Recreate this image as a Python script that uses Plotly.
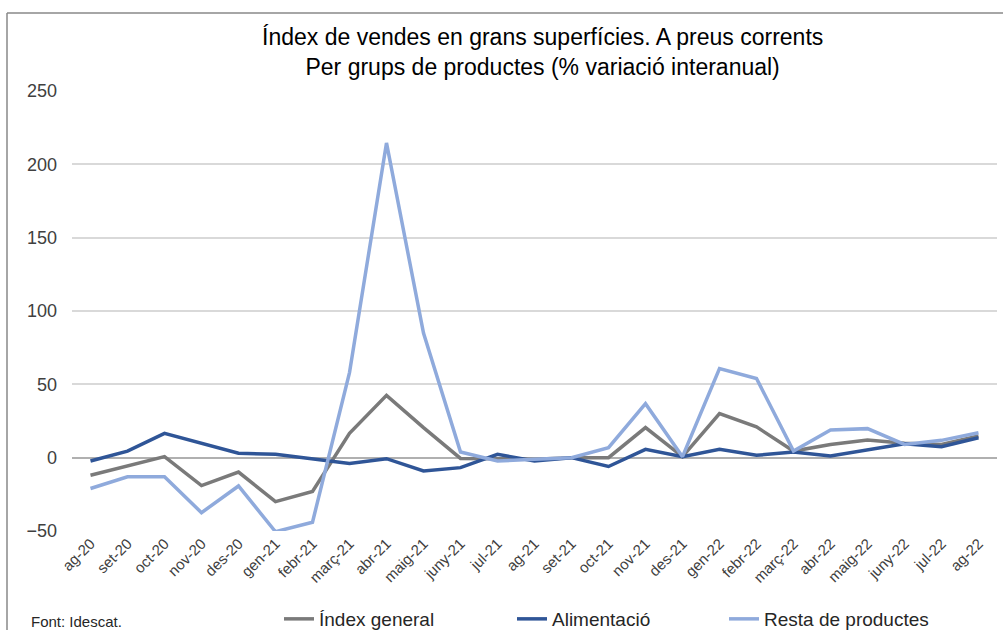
import plotly.graph_objects as go

months = ["ag-20", "set-20", "oct-20", "nov-20", "des-20", "gen-21", "febr-21", "març-21",
          "abr-21", "maig-21", "juny-21", "jul-21", "ag-21", "set-21", "oct-21", "nov-21",
          "des-21", "gen-22", "febr-22", "març-22", "abr-22", "maig-22", "juny-22", "jul-22", "ag-22"]

index_general = [-12, -5.7, 0.7, -19, -9.8, -30, -23, 16.6, 42.5, 20.5, -0.5, -0.7, -1,
                 0, 0, 20.5, 0.7, 30, 21, 4.5, 9, 12, 9.8, 9, 14.8]
alimentacio = [-2.3, 4.5, 16.6, 10, 3, 2.3, -1.1, -3.9, -0.7, -9, -6.8, 2.3, -2.3,
               0, -6, 5.7, 0.7, 5.7, 1.6, 3.9, 1.1, 5.2, 9.5, 7.5, 13.6]
resta = [-21, -13, -13, -37.5, -19.3, -50.5, -44, 58, 214.6, 85, 3.9, -2.3, -1,
         0, 6.8, 36.8, 0.7, 60.7, 54, 4.5, 18.9, 19.8, 9, 11.8, 17]

series = [
    ("Índex general", index_general, "#7a7a7a", "legend", 320),
    ("Alimentació", alimentacio, "#2f5597", "legend2", 553),
    ("Resta de productes", resta, "#8faadc", "legend3", 765),
]

W, H = 1003, 630
ml, mr, mt, mb = 72, 6, 91, 99
pw, ph = W - ml - mr, H - mt - mb

def px_x(x):
    return (x - ml) / pw

def px_y(y):
    return (H - mb - y) / ph

fig = go.Figure()
legends = {}
for name, vals, color, lg, text_x in series:
    fig.add_trace(go.Scatter(x=months, y=vals, name=name, mode="lines", legend=lg,
                             line=dict(color=color, width=3.5)))
    legends[lg] = dict(xref="container", yref="container", x=(text_x - 41) / W, y=1 - 619 / H,
                       xanchor="left", yanchor="middle", orientation="h",
                       font=dict(size=19, color="#262626"), bgcolor="rgba(0,0,0,0)",
                       borderwidth=0)

fig.update_layout(
    width=W, height=H,
    margin=dict(l=ml, r=mr, t=mt, b=mb, autoexpand=False),
    paper_bgcolor="white", plot_bgcolor="white",
    font=dict(family="Liberation Sans, Arial, sans-serif", color="#404040"),
    showlegend=True,
    xaxis=dict(type="category", range=[-0.5, 24.5], tickangle=-45, showgrid=False,
               showline=False, ticks="", automargin=False,
               tickfont=dict(size=15, color="#404040")),
    yaxis=dict(range=[-50, 250], dtick=50, showgrid=True, gridcolor="#d9d9d9", gridwidth=1.5,
               zeroline=True, zerolinecolor="#b0b0b0", zerolinewidth=2, automargin=False,
               showline=False, ticks="", ticklabelstandoff=14,
               tickfont=dict(size=18, color="#404040")),
    annotations=[
        dict(text="Índex de vendes en grans superfícies. A preus corrents<br>Per grups de productes (% variació interanual)",
             xref="paper", yref="paper", x=px_x(542), y=px_y(52), xanchor="center", yanchor="middle",
             showarrow=False, font=dict(size=23, color="#000000"), align="center"),
        dict(text="Font: Idescat.", xref="paper", yref="paper", x=px_x(29), y=px_y(621),
             xanchor="left", yanchor="middle", showarrow=False, font=dict(size=15, color="#262626")),
    ],
    shapes=[
        dict(type="line", xref="paper", yref="paper", x0=px_x(7), x1=px_x(7), y0=px_y(13), y1=px_y(632),
             line=dict(color="#888888", width=1.5)),
        dict(type="line", xref="paper", yref="paper", x0=px_x(7), x1=px_x(1005), y0=px_y(13), y1=px_y(13),
             line=dict(color="#888888", width=1.5)),
    ],
    **legends,
)

fig.write_html("out.html", config={"displayModeBar": False},
               post_script="document.body.style.margin='0';document.body.style.padding='0';")
